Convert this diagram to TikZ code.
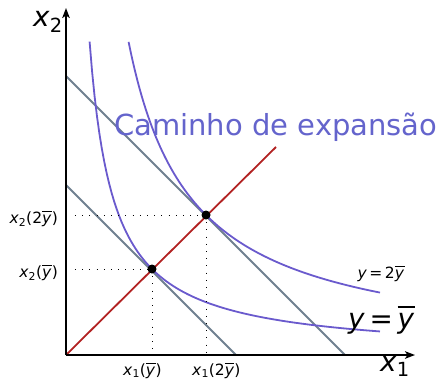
\documentclass[tikz,border=0pt]{standalone}
\usepackage{fontspec}
\setmainfont{DejaVu Sans}
\usetikzlibrary{arrows.meta}
\definecolor{Iso}{HTML}{6A5ACD}
\definecolor{Budget}{HTML}{708090}
\definecolor{Path}{HTML}{B22222}
\definecolor{PathText}{HTML}{6464CC}
\newcommand{\ybar}{\leavevmode\vbox{\hrule height 0.085em\kern0.17em\hbox{\itshape y\kern0.03em}}}
\newcommand{\xsub}[1]{\textit{x}\textsubscript{#1}}

\begin{document}
\begin{tikzpicture}[x=1pt,y=1pt,
  axis/.style={line width=1.9pt,-{Stealth[length=10pt,width=7.5pt,inset=2.5pt]}},
  iso/.style={Iso,line width=1.8pt},
  budget/.style={Budget,line width=1.8pt},
  guide/.style={line width=1pt,dash pattern=on 1pt off 6.2pt},
  dot/.style={circle,fill=black,inner sep=0pt,minimum size=9pt},
  lbl/.style={font=\fontsize{15.5}{18}\selectfont,inner sep=0pt},
  big/.style={font=\fontsize{27.8}{30}\selectfont,inner sep=0pt}]
\useasboundingbox (-66,-26) rectangle (373,355);
\def\kA{73.96}\def\kB{196}
\coordinate (O) at (0,0);
\coordinate (xend) at (349,0);
\coordinate (yend) at (0,347);
% budget lines
\coordinate (bA1) at (0,170); \coordinate (bA2) at (170,0);
\coordinate (bB1) at (0,279); \coordinate (bB2) at (279,0);
\draw[budget] (bA1) -- (bA2);
\draw[budget] (bB1) -- (bB2);
% isoquants
\draw[iso] plot[domain=23.6:314,samples=120] (\x,{\kA/\x*100});
\draw[iso] plot[domain=62.6:314,samples=120] (\x,{\kB/\x*100});
% expansion path
\coordinate (pend) at (210,208);
\draw[Path,line width=1.8pt] (O) -- (pend);
\node[dot] (P1) at (86,86) {};
\node[dot] (P2) at (140,140) {};
\coordinate (hA) at (9,86); \coordinate (hB) at (9,140);
\coordinate (vA) at (86,0); \coordinate (vB) at (140,0);
\draw[guide] (hA) -- (P1.center);
\draw[guide] (hB) -- (P2.center);
\draw[guide] (P1.center) -- (vA);
\draw[guide] (P2.center) -- (vB);
% axes
\draw[axis] (O) -- (xend);
\draw[axis] (O) -- (yend);
\node[big,anchor=base west] (lx1) at (314,-16) {\xsub{1}};
\node[big,anchor=base west] (lx2) at (-33,328) {\xsub{2}};
\node[lbl,anchor=base east] (tB) at (-8,132) {\xsub{2}(2\ybar)};
\node[lbl,anchor=base east] (tA) at (-8,78) {\xsub{2}(\ybar)};
\node[lbl,anchor=base west] (sA) at (57,-20) {\xsub{1}(\ybar)};
\node[lbl,anchor=base west] (sB) at (126,-20) {\xsub{1}(2\ybar)};
\node[lbl,anchor=base] (qB) at (315,77) {\textit{y}\,=\,2\ybar};
\node[big,anchor=base west] (qA) at (282,27) {\textit{y}\,=\,\ybar};
\node[big,PathText,anchor=base west,font=\fontsize{29}{32}\selectfont] (cap) at (48,220) {Caminho de expansão};
\end{tikzpicture}
\end{document}
